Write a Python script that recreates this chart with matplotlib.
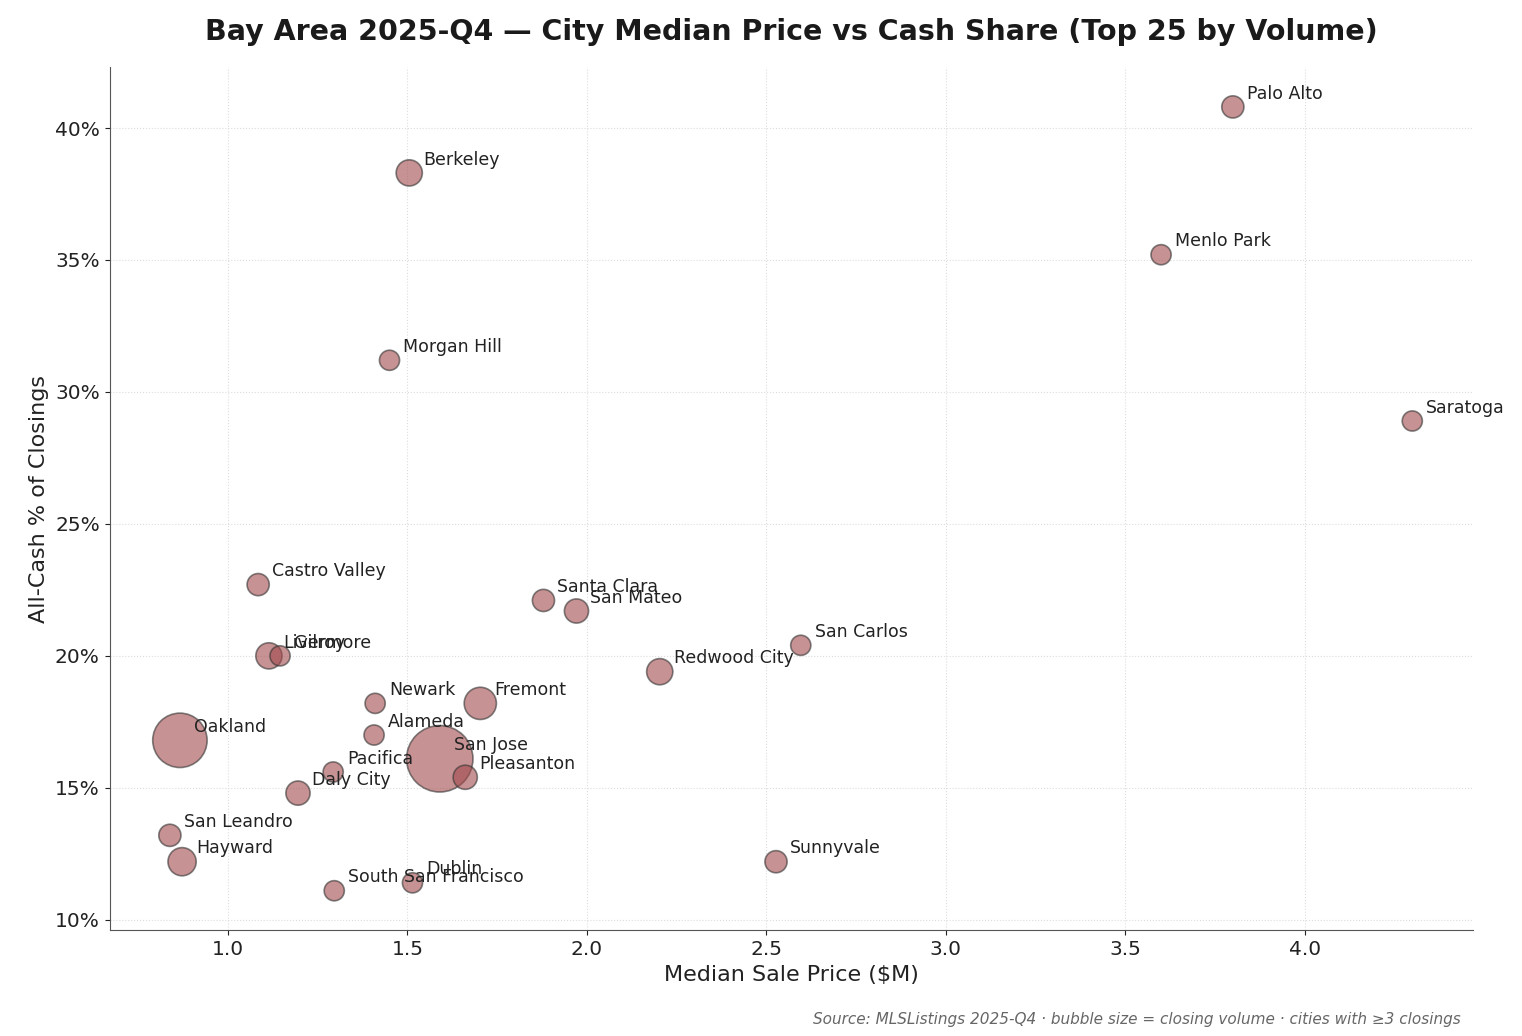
import numpy as np
import matplotlib.pyplot as plt
from matplotlib.ticker import PercentFormatter

cities = ["Palo Alto", "Berkeley", "Menlo Park", "Morgan Hill", "Saratoga",
          "Castro Valley", "Santa Clara", "San Mateo", "San Carlos", "Livermore",
          "Gilroy", "Redwood City", "Newark", "Fremont", "Oakland", "Alameda",
          "San Jose", "Pacifica", "Pleasanton", "Daly City", "San Leandro",
          "Hayward", "Sunnyvale", "Dublin", "South San Francisco"]
price = [3.80, 1.505, 3.60, 1.45, 4.30,
         1.084, 1.879, 1.971, 2.596, 1.114,
         1.145, 2.203, 1.41, 1.703, 0.866, 1.407,
         1.59, 1.293, 1.661, 1.195, 0.838,
         0.872, 2.527, 1.514, 1.296]
cash = [40.8, 38.3, 35.2, 31.2, 28.9,
        22.7, 22.1, 21.7, 20.4, 20.0,
        20.0, 19.4, 18.2, 18.2, 16.8, 17.0,
        16.1, 15.6, 15.4, 14.8, 13.2,
        12.2, 12.2, 11.4, 11.1]
volume = [121, 169, 100, 100, 100,
          121, 121, 144, 100, 169,
          100, 169, 100, 256, 730, 100,
          1090, 100, 144, 144, 121,
          196, 121, 100, 100]

fig, ax = plt.subplots(figsize=(15.22, 10.36), dpi=100)
ax.scatter(price, cash, s=np.array(volume) * 2.1, color="#a24a4c", alpha=0.6,
           edgecolor="#333333", linewidth=1.2, zorder=3)
for name, x, y in zip(cities, price, cash):
    ax.annotate(name, (x, y), xytext=(10, 6), textcoords="offset points",
                fontsize=12.5, color="#222222", zorder=4)

ax.set_xlim(0.67, 4.47)
ax.set_ylim(9.6, 42.3)
ax.yaxis.set_major_formatter(PercentFormatter(decimals=0))
ax.grid(True, linestyle=":", color="#dddddd", linewidth=0.8)
ax.set_axisbelow(True)
for s in ["top", "right"]:
    ax.spines[s].set_visible(False)
for s in ["left", "bottom"]:
    ax.spines[s].set_color("#555555")
ax.tick_params(labelsize=14.5, colors="#222222")
ax.set_xlabel("Median Sale Price ($M)", fontsize=16, color="#222222")
ax.set_ylabel("All-Cash % of Closings", fontsize=16, color="#222222")
ax.set_title("Bay Area 2025-Q4 — City Median Price vs Cash Share (Top 25 by Volume)",
             fontsize=20.5, fontweight="bold", color="#1a1a1a", pad=20)
fig.text(0.96, 0.012, "Source: MLSListings 2025-Q4 · bubble size = closing volume · cities with ≥3 closings",
         ha="right", fontsize=11, style="italic", color="#666666")
fig.subplots_adjust(left=0.072, right=0.968, top=0.935, bottom=0.102)
fig.savefig("out.png")
plt.close(fig)
